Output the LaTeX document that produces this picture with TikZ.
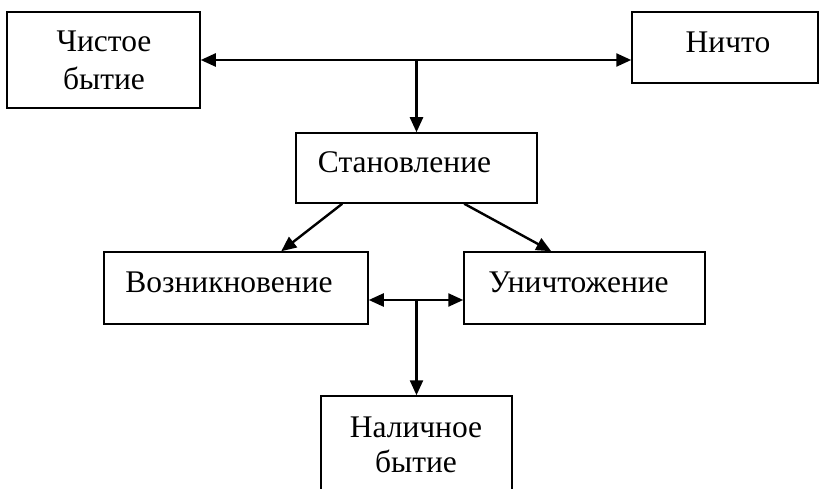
\documentclass[tikz,border=0pt]{standalone}
\usepackage{fontspec}
\setmainfont{Liberation Serif}
\usetikzlibrary{arrows.meta,calc}
\begin{document}
\begin{tikzpicture}[x=1pt,y=-1pt,
  box/.style={draw, line width=1.5pt, inner sep=0pt},
  lbl/.style={anchor=base, inner sep=0pt, font=\fontsize{31.5}{36}\selectfont},
  conn/.style={line width=2.4pt, -{Triangle[length=15pt,width=13pt]}},
  dconn/.style={line width=2.4pt, {Triangle[length=15pt,width=13pt]}-{Triangle[length=15pt,width=13pt]}}]
\useasboundingbox (0,0) rectangle (819,489);
\clip (0,0) rectangle (819,489);
% boxes
\node[box, minimum width=193pt, minimum height=96pt] (chist) at (103.5,60) {};
\node[box, minimum width=186pt, minimum height=71pt] (nichto) at (725,47.5) {};
\node[box, minimum width=241pt, minimum height=70pt] (stan) at (416.5,168) {};
\node[box, minimum width=264pt, minimum height=72pt] (voz) at (236,288) {};
\node[box, minimum width=241pt, minimum height=72pt] (unich) at (584.5,288) {};
\node[box, minimum width=191pt, minimum height=124pt] (nal) at (416.5,458) {};
% texts
\node[lbl] (t1) at (104,52) {Чистое};
\node[lbl] (t2) at (104,90) {бытие};
\node[lbl] (t3) at (728,53) {Ничто};
\node[lbl] (t4) at (404.5,173) {Становление};
\node[lbl] (t5) at (229,292) {Возникновение};
\node[lbl] (t6) at (578.5,292) {Уничтожение};
\node[lbl] (t7) at (416,437) {Наличное};
\node[lbl] (t8) at (416,472) {бытие};
% connectors
\coordinate (j1) at (stan.north |- chist.east);
\draw[dconn] (chist.east) -- (chist.east -| nichto.west);
\draw[conn] (j1) -- (stan.north);
\draw[conn] ($(stan.south west)+(47,0)$) -- ($(voz.north west)+(178,0)$);
\draw[conn] ($(stan.south west)+(169,0)$) -- ($(unich.north west)+(88,0)$);
\coordinate (j2) at (416.5,300);
\draw[dconn] (voz.east |- j2) -- (unich.west |- j2);
\draw[conn] (j2) -- (nal.north);
\end{tikzpicture}
\end{document}
